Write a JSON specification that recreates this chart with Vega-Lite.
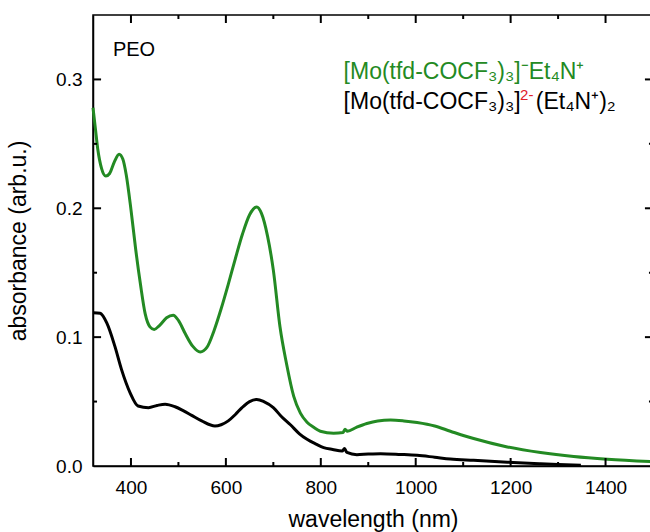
{
  "$schema": "https://vega.github.io/schema/vega-lite/v6.json",
  "autosize": {"type": "none"},
  "padding": {"left": 93, "top": 15, "right": 0, "bottom": 66},
  "width": 560,
  "height": 451,
  "background": "white",
  "config": {
    "view": {"stroke": "#000", "strokeWidth": 1.5},
    "axis": {"grid": false, "labelFont": "Liberation Sans", "titleFont": "Liberation Sans", "labelColor": "#000", "titleColor": "#000", "domainColor": "#000", "domainWidth": 1.5, "titleFontWeight": "normal"},
    "text": {"font": "Liberation Sans"}
  },
  "datasets": {
    "ticks": [
      {"v": 400, "ax": "x", "kind": "major"},
      {"v": 600, "ax": "x", "kind": "major"},
      {"v": 800, "ax": "x", "kind": "major"},
      {"v": 1000, "ax": "x", "kind": "major"},
      {"v": 1200, "ax": "x", "kind": "major"},
      {"v": 1400, "ax": "x", "kind": "major"},
      {"v": 500, "ax": "x", "kind": "minor"},
      {"v": 700, "ax": "x", "kind": "minor"},
      {"v": 900, "ax": "x", "kind": "minor"},
      {"v": 1100, "ax": "x", "kind": "minor"},
      {"v": 1300, "ax": "x", "kind": "minor"},
      {"v": 0.1, "ax": "y", "kind": "major"},
      {"v": 0.2, "ax": "y", "kind": "major"},
      {"v": 0.3, "ax": "y", "kind": "major"},
      {"v": 0.05, "ax": "y", "kind": "minor"},
      {"v": 0.15, "ax": "y", "kind": "minor"},
      {"v": 0.25, "ax": "y", "kind": "minor"}
    ],
    "spectra": [
      {"wl": 320, "abs": 0.278, "s": "mono"},
      {"wl": 325, "abs": 0.262, "s": "mono"},
      {"wl": 330, "abs": 0.246, "s": "mono"},
      {"wl": 338, "abs": 0.231, "s": "mono"},
      {"wl": 347, "abs": 0.225, "s": "mono"},
      {"wl": 355, "abs": 0.227, "s": "mono"},
      {"wl": 365, "abs": 0.236, "s": "mono"},
      {"wl": 375, "abs": 0.242, "s": "mono"},
      {"wl": 383, "abs": 0.238, "s": "mono"},
      {"wl": 390, "abs": 0.226, "s": "mono"},
      {"wl": 400, "abs": 0.199, "s": "mono"},
      {"wl": 410, "abs": 0.168, "s": "mono"},
      {"wl": 420, "abs": 0.141, "s": "mono"},
      {"wl": 430, "abs": 0.118, "s": "mono"},
      {"wl": 440, "abs": 0.108, "s": "mono"},
      {"wl": 449, "abs": 0.106, "s": "mono"},
      {"wl": 460, "abs": 0.109, "s": "mono"},
      {"wl": 475, "abs": 0.115, "s": "mono"},
      {"wl": 489, "abs": 0.117, "s": "mono"},
      {"wl": 500, "abs": 0.113, "s": "mono"},
      {"wl": 514, "abs": 0.103, "s": "mono"},
      {"wl": 530, "abs": 0.093, "s": "mono"},
      {"wl": 546, "abs": 0.0885, "s": "mono"},
      {"wl": 560, "abs": 0.092, "s": "mono"},
      {"wl": 575, "abs": 0.105, "s": "mono"},
      {"wl": 590, "abs": 0.122, "s": "mono"},
      {"wl": 605, "abs": 0.141, "s": "mono"},
      {"wl": 620, "abs": 0.161, "s": "mono"},
      {"wl": 635, "abs": 0.180, "s": "mono"},
      {"wl": 650, "abs": 0.195, "s": "mono"},
      {"wl": 665, "abs": 0.201, "s": "mono"},
      {"wl": 675, "abs": 0.196, "s": "mono"},
      {"wl": 688, "abs": 0.178, "s": "mono"},
      {"wl": 700, "abs": 0.152, "s": "mono"},
      {"wl": 714, "abs": 0.108, "s": "mono"},
      {"wl": 728, "abs": 0.079, "s": "mono"},
      {"wl": 743, "abs": 0.054, "s": "mono"},
      {"wl": 757, "abs": 0.041, "s": "mono"},
      {"wl": 771, "abs": 0.034, "s": "mono"},
      {"wl": 785, "abs": 0.030, "s": "mono"},
      {"wl": 799, "abs": 0.027, "s": "mono"},
      {"wl": 827, "abs": 0.0254, "s": "mono"},
      {"wl": 847, "abs": 0.026, "s": "mono"},
      {"wl": 851, "abs": 0.0285, "s": "mono"},
      {"wl": 856, "abs": 0.027, "s": "mono"},
      {"wl": 875, "abs": 0.030, "s": "mono"},
      {"wl": 897, "abs": 0.033, "s": "mono"},
      {"wl": 920, "abs": 0.035, "s": "mono"},
      {"wl": 947, "abs": 0.0357, "s": "mono"},
      {"wl": 975, "abs": 0.035, "s": "mono"},
      {"wl": 1003, "abs": 0.0337, "s": "mono"},
      {"wl": 1040, "abs": 0.031, "s": "mono"},
      {"wl": 1073, "abs": 0.027, "s": "mono"},
      {"wl": 1122, "abs": 0.0213, "s": "mono"},
      {"wl": 1193, "abs": 0.0148, "s": "mono"},
      {"wl": 1263, "abs": 0.0104, "s": "mono"},
      {"wl": 1333, "abs": 0.0073, "s": "mono"},
      {"wl": 1404, "abs": 0.0052, "s": "mono"},
      {"wl": 1500, "abs": 0.0033, "s": "mono"},
      {"wl": 320, "abs": 0.119, "s": "di"},
      {"wl": 335, "abs": 0.1185, "s": "di"},
      {"wl": 349, "abs": 0.111, "s": "di"},
      {"wl": 366, "abs": 0.093, "s": "di"},
      {"wl": 380, "abs": 0.075, "s": "di"},
      {"wl": 398, "abs": 0.057, "s": "di"},
      {"wl": 415, "abs": 0.0466, "s": "di"},
      {"wl": 437, "abs": 0.0453, "s": "di"},
      {"wl": 455, "abs": 0.047, "s": "di"},
      {"wl": 472, "abs": 0.048, "s": "di"},
      {"wl": 493, "abs": 0.046, "s": "di"},
      {"wl": 510, "abs": 0.043, "s": "di"},
      {"wl": 528, "abs": 0.0393, "s": "di"},
      {"wl": 549, "abs": 0.035, "s": "di"},
      {"wl": 577, "abs": 0.031, "s": "di"},
      {"wl": 590, "abs": 0.032, "s": "di"},
      {"wl": 605, "abs": 0.035, "s": "di"},
      {"wl": 620, "abs": 0.040, "s": "di"},
      {"wl": 634, "abs": 0.0453, "s": "di"},
      {"wl": 650, "abs": 0.050, "s": "di"},
      {"wl": 665, "abs": 0.0517, "s": "di"},
      {"wl": 680, "abs": 0.050, "s": "di"},
      {"wl": 700, "abs": 0.0453, "s": "di"},
      {"wl": 718, "abs": 0.038, "s": "di"},
      {"wl": 736, "abs": 0.032, "s": "di"},
      {"wl": 755, "abs": 0.025, "s": "di"},
      {"wl": 771, "abs": 0.0207, "s": "di"},
      {"wl": 790, "abs": 0.017, "s": "di"},
      {"wl": 806, "abs": 0.0143, "s": "di"},
      {"wl": 825, "abs": 0.0128, "s": "di"},
      {"wl": 845, "abs": 0.0116, "s": "di"},
      {"wl": 850, "abs": 0.0135, "s": "di"},
      {"wl": 855, "abs": 0.0105, "s": "di"},
      {"wl": 876, "abs": 0.0088, "s": "di"},
      {"wl": 900, "abs": 0.0093, "s": "di"},
      {"wl": 926, "abs": 0.0096, "s": "di"},
      {"wl": 968, "abs": 0.009, "s": "di"},
      {"wl": 1003, "abs": 0.0083, "s": "di"},
      {"wl": 1040, "abs": 0.0068, "s": "di"},
      {"wl": 1073, "abs": 0.0054, "s": "di"},
      {"wl": 1122, "abs": 0.0044, "s": "di"},
      {"wl": 1193, "abs": 0.003, "s": "di"},
      {"wl": 1263, "abs": 0.0018, "s": "di"},
      {"wl": 1300, "abs": 0.0012, "s": "di"},
      {"wl": 1348, "abs": 0.0005, "s": "di"}
    ]
  },
  "resolve": {"axis": {"x": "independent", "y": "independent"}},
  "layer": [
    {
      "data": {"name": "spectra"},
      "mark": {"type": "line", "strokeWidth": 3, "interpolate": "monotone"},
      "encoding": {
        "x": {"field": "wl", "type": "quantitative", "scale": {"domain": [320, 1500], "nice": false, "zero": false},
          "axis": {"orient": "bottom", "values": [400, 600, 800, 1000, 1200, 1400], "format": "d", "title": "wavelength (nm)", "ticks": false, "labelPadding": 12, "labelFontSize": 19, "titleFontSize": 23, "titlePadding": 11}},
        "y": {"field": "abs", "type": "quantitative", "scale": {"domain": [0, 0.35], "nice": false, "zero": true},
          "axis": {"orient": "left", "values": [0, 0.1, 0.2, 0.3], "format": ".1f", "title": "absorbance (arb.u.)", "ticks": false, "labelPadding": 11, "labelFontSize": 19, "titleFontSize": 23, "titlePadding": 25}},
        "color": {"field": "s", "type": "nominal", "scale": {"domain": ["mono", "di"], "range": ["#238a23", "#000000"]}, "legend": null}
      }
    },
    {
      "data": {"name": "ticks"},
      "transform": [{"filter": "datum.ax === 'x' && datum.kind === 'major'"}],
      "mark": {"type": "rule", "strokeWidth": 2, "color": "#000"},
      "encoding": {
        "x": {"field": "v", "type": "quantitative", "scale": {"domain": [320, 1500], "nice": false, "zero": false}, "axis": null},
        "y": {"datum": 0, "type": "quantitative", "scale": {"domain": [0, 0.35], "nice": false, "zero": true}, "axis": null},
        "y2": {"datum": 0.0062}
      }
    },
    {
      "data": {"name": "ticks"},
      "transform": [{"filter": "datum.ax === 'x' && datum.kind === 'major'"}],
      "mark": {"type": "rule", "strokeWidth": 2, "color": "#000"},
      "encoding": {
        "x": {"field": "v", "type": "quantitative", "scale": {"domain": [320, 1500], "nice": false, "zero": false}, "axis": null},
        "y": {"datum": 0.35, "type": "quantitative", "scale": {"domain": [0, 0.35], "nice": false, "zero": true}, "axis": null},
        "y2": {"datum": 0.3438}
      }
    },
    {
      "data": {"name": "ticks"},
      "transform": [{"filter": "datum.ax === 'x' && datum.kind === 'minor'"}],
      "mark": {"type": "rule", "strokeWidth": 2, "color": "#000"},
      "encoding": {
        "x": {"field": "v", "type": "quantitative", "scale": {"domain": [320, 1500], "nice": false, "zero": false}, "axis": null},
        "y": {"datum": 0, "type": "quantitative", "scale": {"domain": [0, 0.35], "nice": false, "zero": true}, "axis": null},
        "y2": {"datum": 0.0031}
      }
    },
    {
      "data": {"name": "ticks"},
      "transform": [{"filter": "datum.ax === 'x' && datum.kind === 'minor'"}],
      "mark": {"type": "rule", "strokeWidth": 2, "color": "#000"},
      "encoding": {
        "x": {"field": "v", "type": "quantitative", "scale": {"domain": [320, 1500], "nice": false, "zero": false}, "axis": null},
        "y": {"datum": 0.35, "type": "quantitative", "scale": {"domain": [0, 0.35], "nice": false, "zero": true}, "axis": null},
        "y2": {"datum": 0.3469}
      }
    },
    {
      "data": {"name": "ticks"},
      "transform": [{"filter": "datum.ax === 'y' && datum.kind === 'major'"}],
      "mark": {"type": "rule", "strokeWidth": 2, "color": "#000"},
      "encoding": {
        "y": {"field": "v", "type": "quantitative", "scale": {"domain": [0, 0.35], "nice": false, "zero": true}, "axis": null},
        "x": {"datum": 320, "type": "quantitative", "scale": {"domain": [320, 1500], "nice": false, "zero": false}, "axis": null},
        "x2": {"datum": 337}
      }
    },
    {
      "data": {"name": "ticks"},
      "transform": [{"filter": "datum.ax === 'y' && datum.kind === 'major'"}],
      "mark": {"type": "rule", "strokeWidth": 2, "color": "#000"},
      "encoding": {
        "y": {"field": "v", "type": "quantitative", "scale": {"domain": [0, 0.35], "nice": false, "zero": true}, "axis": null},
        "x": {"datum": 1500, "type": "quantitative", "scale": {"domain": [320, 1500], "nice": false, "zero": false}, "axis": null},
        "x2": {"datum": 1483}
      }
    },
    {
      "data": {"name": "ticks"},
      "transform": [{"filter": "datum.ax === 'y' && datum.kind === 'minor'"}],
      "mark": {"type": "rule", "strokeWidth": 2, "color": "#000"},
      "encoding": {
        "y": {"field": "v", "type": "quantitative", "scale": {"domain": [0, 0.35], "nice": false, "zero": true}, "axis": null},
        "x": {"datum": 320, "type": "quantitative", "scale": {"domain": [320, 1500], "nice": false, "zero": false}, "axis": null},
        "x2": {"datum": 328.5}
      }
    },
    {
      "data": {"name": "ticks"},
      "transform": [{"filter": "datum.ax === 'y' && datum.kind === 'minor'"}],
      "mark": {"type": "rule", "strokeWidth": 2, "color": "#000"},
      "encoding": {
        "y": {"field": "v", "type": "quantitative", "scale": {"domain": [0, 0.35], "nice": false, "zero": true}, "axis": null},
        "x": {"datum": 1500, "type": "quantitative", "scale": {"domain": [320, 1500], "nice": false, "zero": false}, "axis": null},
        "x2": {"datum": 1491.5}
      }
    },
    {
      "data": {"values": [{"wl": 362, "abs": 0.318, "label": "PEO"}]},
      "mark": {"type": "text", "align": "left", "baseline": "alphabetic", "fontSize": 20, "color": "#000"},
      "encoding": {
        "x": {"field": "wl", "type": "quantitative", "scale": {"domain": [320, 1500], "nice": false, "zero": false}, "axis": null},
        "y": {"field": "abs", "type": "quantitative", "scale": {"domain": [0, 0.35], "nice": false, "zero": true}, "axis": null},
        "text": {"field": "label"}
      }
    },
    {
      "data": {"values": [{"wl": 848, "abs": 0.3005, "label": "[Mo(tfd-COCF₃)₃]⁻Et₄N⁺"}]},
      "mark": {"type": "text", "align": "left", "baseline": "alphabetic", "fontSize": 23, "color": "#238a23"},
      "encoding": {
        "x": {"field": "wl", "type": "quantitative", "scale": {"domain": [320, 1500], "nice": false, "zero": false}, "axis": null},
        "y": {"field": "abs", "type": "quantitative", "scale": {"domain": [0, 0.35], "nice": false, "zero": true}, "axis": null},
        "text": {"field": "label"}
      }
    },
    {
      "data": {"values": [{"wl": 848, "abs": 0.2767, "label": "[Mo(tfd-COCF₃)₃]"}, {"wl": 1253, "abs": 0.2767, "label": "(Et₄N⁺)₂"}]},
      "mark": {"type": "text", "align": "left", "baseline": "alphabetic", "fontSize": 23, "color": "#000"},
      "encoding": {
        "x": {"field": "wl", "type": "quantitative", "scale": {"domain": [320, 1500], "nice": false, "zero": false}, "axis": null},
        "y": {"field": "abs", "type": "quantitative", "scale": {"domain": [0, 0.35], "nice": false, "zero": true}, "axis": null},
        "text": {"field": "label"}
      }
    },
    {
      "data": {"values": [{"wl": 1220, "abs": 0.284, "label": "2-"}]},
      "mark": {"type": "text", "align": "left", "baseline": "alphabetic", "fontSize": 15, "color": "#e0202a"},
      "encoding": {
        "x": {"field": "wl", "type": "quantitative", "scale": {"domain": [320, 1500], "nice": false, "zero": false}, "axis": null},
        "y": {"field": "abs", "type": "quantitative", "scale": {"domain": [0, 0.35], "nice": false, "zero": true}, "axis": null},
        "text": {"field": "label"}
      }
    }
  ]
}
